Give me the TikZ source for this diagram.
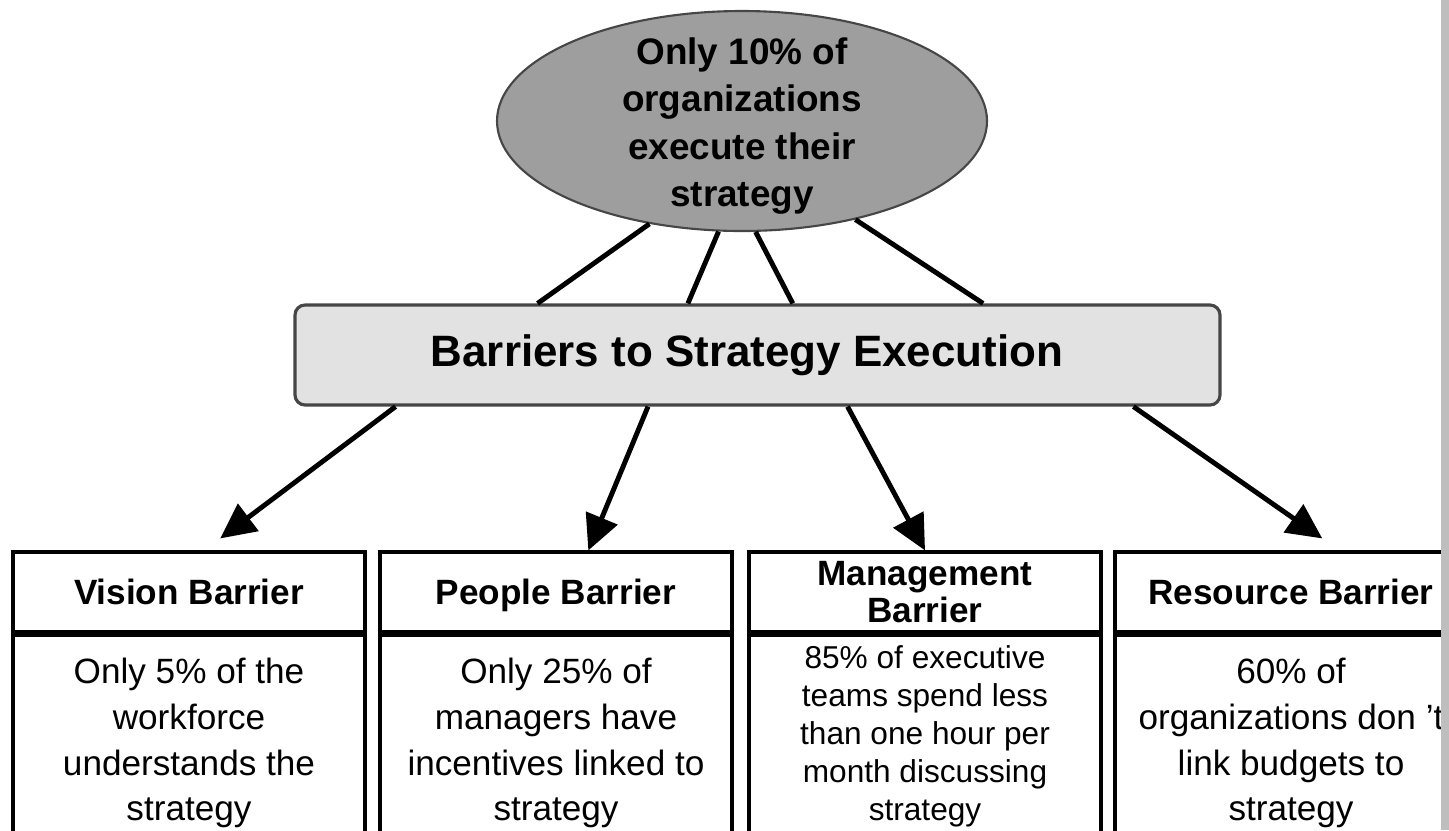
\documentclass[tikz,border=0pt]{standalone}
\usepackage{fontspec}
\setmainfont{Liberation Sans}
\usetikzlibrary{shapes.geometric, positioning, calc, arrows.meta}

\definecolor{goalgray}{RGB}{158,158,158}
\definecolor{barfill}{RGB}{226,226,226}
\definecolor{darkline}{RGB}{70,70,70}
\definecolor{stripgray}{RGB}{190,190,190}

\begin{document}
\begin{tikzpicture}[x=0.1mm, y=-0.1mm,
  goal/.style={ellipse, draw=darkline, fill=goalgray, line width=0.6pt, minimum width=4.9cm, minimum height=2.2cm, inner sep=0pt},
  goaltext/.style={align=center, font=\fontsize{10.5}{13.4}\selectfont\bfseries},
  bar/.style={draw=darkline, fill=barfill, line width=0.9pt, rounded corners=1mm, minimum width=9.25cm, minimum height=1cm, font=\fontsize{12.5}{15}\selectfont\bfseries},
  head/.style={draw, line width=0.9pt, minimum width=3.52cm, minimum height=0.8cm, inner sep=0pt, align=center, font=\fontsize{10}{11.4}\selectfont\bfseries},
  body/.style={draw, line width=0.9pt, minimum width=3.52cm, minimum height=2.16cm, inner sep=0pt, align=center, font=\fontsize{10}{13}\selectfont},
  link/.style={line width=1.4pt},
  arr/.style={line width=1.4pt, -{Triangle[length=10pt, width=9.5pt]}},
]
\useasboundingbox (0,0) rectangle (1449,830);

% top of the tree
\node[goal] (goal) at (742,121) {};
\node[goaltext] (goaltxt) at ($(goal.center)+(0,5)$) {Only 10\% of\\organizations\\execute their\\strategy};

\node[bar] (bar) at (757.5,355) {Barriers to Strategy Execution\hspace*{6pt}};

\draw[link] (goal.228) -- ($(bar.north west)!0.263!(bar.north east)$);
\draw[link] (goal.258) -- ($(bar.north west)!0.425!(bar.north east)$);
\draw[link] (goal.277) -- ($(bar.north west)!0.538!(bar.north east)$);
\draw[link] (goal.319) -- ($(bar.north west)!0.743!(bar.north east)$);

% the four barriers
\node[head] (vhead) at (189,592) {Vision Barrier};
\node[head] (phead) at (556,592) {\raisebox{0pt}[\height][0pt]{People Barrier}};
\node[head] (mhead) at (925,592) {\raisebox{-3pt}{Management}\\Barrier};
\node[head] (rhead) at (1291,592) {Resource Barrier};

\node[body, below=0pt of vhead] (vbody) {Only 5\% of the\\workforce\\understands the\\strategy};
\node[body, below=0pt of phead] (pbody) {Only 25\% of\\managers have\\incentives linked to\\strategy};
\node[body, below=0pt of mhead, minimum height=2.02cm, font=\fontsize{9}{10.8}\selectfont] (mbody) {85\% of executive\\teams spend less\\than one hour per\\month discussing\\strategy};
\node[body, below=0pt of rhead] (rbody) {60\% of\\organizations don ’t\\link budgets to\\strategy};

\draw[arr] ($(bar.south west)!0.110!(bar.south east)$) -- ($(vhead.north west)!0.588!(vhead.north east)+(0,-12)$);
\draw[arr] ($(bar.south west)!0.382!(bar.south east)$) -- ($(phead.north west)!0.591!(phead.north east)$);
\draw[arr] ($(bar.south west)!0.597!(bar.south east)$) -- ($(mhead.north west)!0.5!(mhead.north east)$);
\draw[arr] ($(bar.south west)!0.905!(bar.south east)$) -- ($(rhead.north west)!0.588!(rhead.north east)+(0,-12)$);

% scan edge on the right
\fill[stripgray] (1441,0) rectangle (1449,830);

\end{tikzpicture}
\end{document}
